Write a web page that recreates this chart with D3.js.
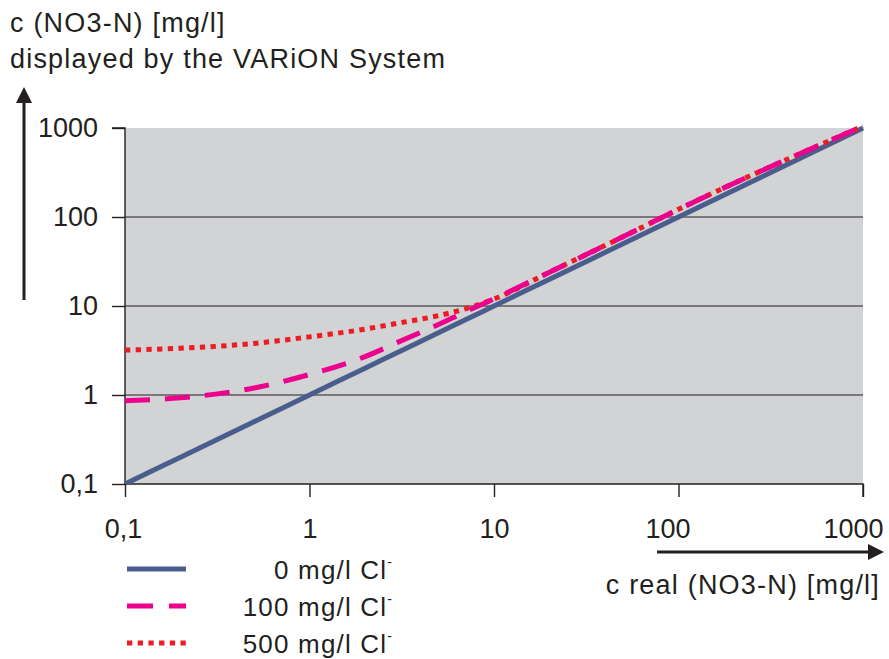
<!DOCTYPE html>
<html>
<head>
<meta charset="utf-8">
<script src="https://cdn.jsdelivr.net/npm/d3@7"></script>
<style>
  html, body { margin: 0; padding: 0; background: #ffffff; }
  svg { display: block; font-family: "Liberation Sans", Arial, Helvetica, sans-serif; }
</style>
</head>
<body>
<svg id="chart" width="889" height="659"></svg>
<script>
// ---- data ----
const xReal   = [0.1, 0.2, 0.5, 1, 2, 3, 5, 7, 10, 20, 50, 100, 200, 500, 1000];
const cl0     = [0.1, 0.2, 0.5, 1, 2, 3, 5, 7, 10, 20, 50, 100, 200, 500, 1000];
const cl100   = [0.86, 0.93, 1.2, 1.7, 2.7, 3.9, 6.2, 8.6, 12, 24, 60, 122, 240, 560, 1050];
const cl500   = [3.2, 3.35, 3.8, 4.5, 5.5, 6.4, 7.8, 9.3, 12, 24, 60, 122, 240, 560, 1050];
const tickValues = [0.1, 1, 10, 100, 1000];
const tickLabels = ["0,1", "1", "10", "100", "1000"];
const seriesNames = ["0 mg/l Cl", "100 mg/l Cl", "500 mg/l Cl"];
const titleLines = ["c (NO3-N) [mg/l]", "displayed by the VARiON System"];
const xTitle = "c real (NO3-N) [mg/l]";

// ---- layout ----
const svg = d3.select("#chart");
const L = 125, R = 863, T = 128, B = 484;
const x = d3.scaleLog().domain([0.1, 1000]).range([L, R]);
const y = d3.scaleLog().domain([0.1, 1000]).range([B, T]);
const ink = "#231f20";

const defs = svg.append("defs");
defs.append("clipPath").attr("id", "plotclip")
  .append("rect").attr("x", L).attr("y", T - 4).attr("width", R - L + 2).attr("height", B - T + 4);
defs.append("marker").attr("id", "arrow").attr("viewBox", "0 0 10 10")
  .attr("refX", 0).attr("refY", 5).attr("markerWidth", 18).attr("markerHeight", 16)
  .attr("markerUnits", "userSpaceOnUse").attr("orient", "auto")
  .append("path").attr("d", "M0,0 L10,5 L0,10 Z").attr("fill", ink);

// background
svg.append("rect").attr("x", L).attr("y", T).attr("width", R - L).attr("height", B - T).attr("fill", "#d1d3d4");

// gridlines
svg.append("g").selectAll("line").data(tickValues.slice(1, 4)).join("line")
  .attr("x1", L).attr("x2", R).attr("y1", d => y(d)).attr("y2", d => y(d))
  .attr("stroke", ink).attr("stroke-width", 1.1);

// axes
const fmt = d => tickLabels[tickValues.indexOf(d)];
const yAxis = svg.append("g").attr("transform", `translate(${L},0)`)
  .call(d3.axisLeft(y).tickValues(tickValues).tickFormat(fmt).tickSize(13).tickPadding(14));
const xAxis = svg.append("g").attr("transform", `translate(0,${B})`)
  .call(d3.axisBottom(x).tickValues(tickValues).tickFormat(fmt).tickSize(13).tickPadding(22));
[yAxis, xAxis].forEach(a => {
  a.select(".domain").attr("stroke", ink).attr("stroke-width", 1.4);
  a.selectAll(".tick line").attr("stroke", ink).attr("stroke-width", 1.4);
  a.selectAll(".tick text").attr("font-size", 27).attr("fill", ink)
    .attr("font-family", "'Liberation Sans', Arial, sans-serif");
});
yAxis.select(".domain").attr("d", `M-13,${T}H0V${B}`);
xAxis.select(".domain").attr("d", `M${L},0H${R}V13`);
// shift labels to mimic reference placement
xAxis.selectAll(".tick text").attr("dx", (d, i) => [-2, 0, 0, -11, -10][i]);

// lines
const line = d3.line().x(d => x(d[0])).y(d => y(d[1])).curve(d3.curveMonotoneX);
const g = svg.append("g").attr("clip-path", "url(#plotclip)");
const styles = [
  { data: cl0,   color: "#4a5e8d", dash: null },
  { data: cl500, color: "#ed1c24", dash: "5.3,5.4" },
  { data: cl100, color: "#ec008c", dash: "25,15" }
];
styles.forEach(s => {
  g.append("path").datum(xReal.map((v, i) => [v, s.data[i]]))
    .attr("d", line).attr("fill", "none").attr("stroke", s.color)
    .attr("stroke-width", 5).attr("stroke-dasharray", s.dash);
});

// titles
const tg = svg.append("g").attr("font-size", 27).attr("fill", ink).attr("letter-spacing", 1.2);
tg.append("text").attr("x", 10).attr("y", 32).text(titleLines[0]);
tg.append("text").attr("x", 10).attr("y", 68).text(titleLines[1]);
tg.append("text").attr("x", 880).attr("y", 594).attr("text-anchor", "end").text(xTitle);

// axis arrows
svg.append("line").attr("x1", 24).attr("y1", 300).attr("x2", 24).attr("y2", 103)
  .attr("stroke", ink).attr("stroke-width", 3).attr("marker-end", "url(#arrow)");
svg.append("line").attr("x1", 657).attr("y1", 552).attr("x2", 868).attr("y2", 552)
  .attr("stroke", ink).attr("stroke-width", 3).attr("marker-end", "url(#arrow)");

// legend
const legendRows = [
  { name: seriesNames[0], color: "#4a5e8d", dash: null },
  { name: seriesNames[1], color: "#ec008c", dash: "26,16" },
  { name: seriesNames[2], color: "#ed1c24", dash: "5.3,5.4" }
];
const lg = svg.append("g");
legendRows.forEach((r, i) => {
  const cy = 569 + i * 37;
  lg.append("line").attr("x1", 127).attr("x2", 186).attr("y1", cy).attr("y2", cy)
    .attr("stroke", r.color).attr("stroke-width", 5).attr("stroke-dasharray", r.dash);
  const t = lg.append("text").attr("x", 392).attr("y", cy + 10).attr("text-anchor", "end")
    .attr("font-size", 26).attr("fill", ink).attr("letter-spacing", 1.2);
  t.append("tspan").text(r.name);
  t.append("tspan").attr("font-size", 14).attr("dy", -12).attr("letter-spacing", 0).text("-");
});
</script>
</body>
</html>
